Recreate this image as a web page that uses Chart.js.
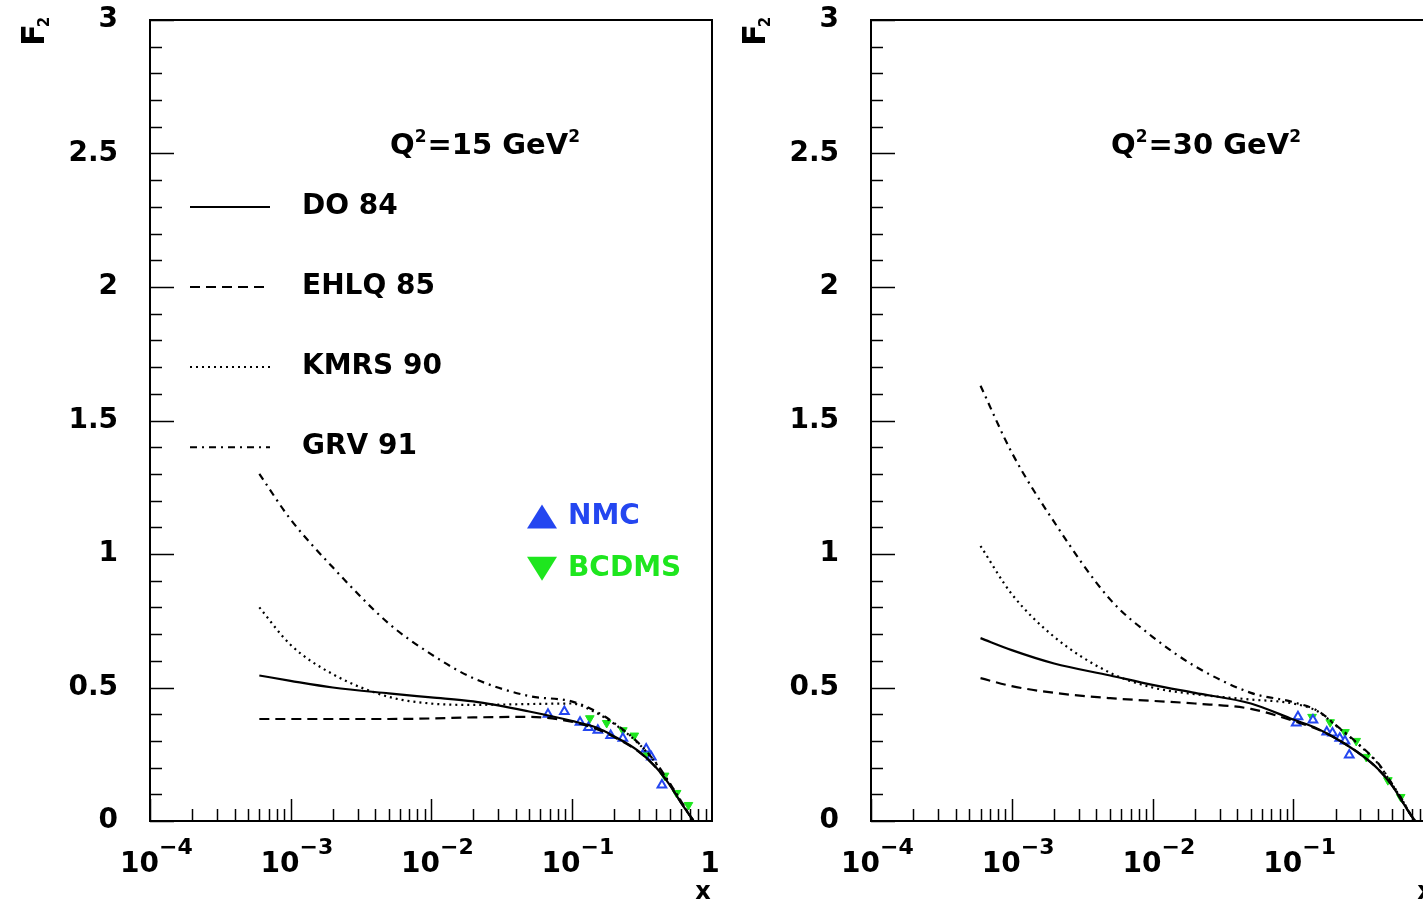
<!DOCTYPE html>
<html>
<head>
<meta charset="utf-8">
<script src="https://cdn.jsdelivr.net/npm/chart.js@4.4.1/dist/chart.umd.min.js"></script>
<style>
  html, body { margin: 0; padding: 0; background: #fff; overflow: hidden; width: 1423px; height: 904px; }
  canvas { position: absolute; top: 0; }
  #leftChart { left: 0; }
  #rightChart { left: 720px; }
</style>
</head>
<body>
<canvas id="leftChart" width="720" height="904" style="width:720px;height:904px"></canvas>
<canvas id="rightChart" width="740" height="904" style="width:740px;height:904px"></canvas>
<script>
const xGrid = [6e-4, 1e-3, 2e-3, 5e-3, 1e-2, 2e-2, 5e-2, 0.1, 0.15, 0.2, 0.3, 0.4, 0.5, 0.6, 0.7, 0.74];

// Q2 = 15 GeV2
const do84_15   = [0.545, 0.525, 0.50, 0.478, 0.463, 0.448, 0.41, 0.375, 0.35, 0.318, 0.262, 0.20, 0.135, 0.07, 0.018, 0];
const ehlq85_15 = [0.382, 0.382, 0.382, 0.382, 0.384, 0.388, 0.39, 0.372, 0.345, 0.315, 0.26, 0.20, 0.135, 0.07, 0.018, 0];
const kmrs90_15 = [0.80, 0.66, 0.55, 0.465, 0.44, 0.435, 0.438, 0.44, 0.405, 0.365, 0.29, 0.215, 0.14, 0.075, 0.018, 0];
const grv91_15  = [1.30, 1.13, 0.95, 0.74, 0.625, 0.535, 0.468, 0.448, 0.41, 0.368, 0.292, 0.217, 0.142, 0.076, 0.018, 0];

// Q2 = 30 GeV2
const do84_30   = [0.685, 0.64, 0.59, 0.545, 0.51, 0.48, 0.44, 0.38, 0.345, 0.31, 0.25, 0.195, 0.135, 0.07, 0.015, 0];
const ehlq85_30 = [0.535, 0.505, 0.48, 0.46, 0.45, 0.44, 0.42, 0.375, 0.343, 0.31, 0.25, 0.195, 0.135, 0.07, 0.015, 0];
const kmrs90_30 = [1.03, 0.85, 0.69, 0.555, 0.50, 0.475, 0.455, 0.44, 0.41, 0.358, 0.28, 0.215, 0.14, 0.075, 0.015, 0];
const grv91_30  = [1.63, 1.38, 1.12, 0.83, 0.69, 0.58, 0.48, 0.445, 0.412, 0.36, 0.282, 0.217, 0.142, 0.076, 0.015, 0];

// measurements
const nmcX_15 = [0.068, 0.089, 0.115, 0.132, 0.154, 0.19, 0.232, 0.34, 0.37, 0.44];
const nmcY_15 = [0.40, 0.41, 0.37, 0.35, 0.34, 0.32, 0.31, 0.27, 0.24, 0.135];
const bcdmsX_15 = [0.135, 0.178, 0.232, 0.28, 0.345, 0.46, 0.56, 0.68];
const bcdmsY_15 = [0.385, 0.367, 0.34, 0.32, 0.25, 0.17, 0.105, 0.06];

const nmcX_30 = [0.105, 0.108, 0.138, 0.173, 0.19, 0.214, 0.233, 0.25];
const nmcY_30 = [0.367, 0.39, 0.378, 0.333, 0.33, 0.31, 0.30, 0.247];
const bcdmsX_30 = [0.136, 0.183, 0.233, 0.28, 0.33, 0.47, 0.58];
const bcdmsY_30 = [0.39, 0.37, 0.333, 0.30, 0.24, 0.153, 0.09];

const curveNames = ["DO 84", "EHLQ 85", "KMRS 90", "GRV 91"];
const curveDashes = [[], [10, 6], [2, 4], [7, 5, 2, 5]];
const yLabelValues = [0, 0.5, 1, 1.5, 2, 2.5, 3];
const yLabels = ["0", "0.5", "1", "1.5", "2", "2.5", "3"];
const xLabelExps = [-4, -3, -2, -1];

const FONT = '"DejaVu Sans", Arial, sans-serif';
const NMC_BLUE = "#2446f0";
const BCDMS_GREEN = "#1ee61e";

function pts(xs, ys) {
    return xs.map((x, i) => ({ x: x, y: ys[i] }));
}

function supText(ctx, parts, x, y) {
    // parts: [text, isSuperscript]
    let cx = x;
    parts.forEach(([t, sup]) => {
        ctx.font = sup ? "bold 17px " + FONT : "bold 29px " + FONT;
        ctx.fillText(t, cx, sup ? y - 12 : y);
        cx += ctx.measureText(t).width + (sup ? 1 : 0);
    });
}

function drawTriangle(ctx, cx, cy, w, h, down) {
    ctx.beginPath();
    if (down) {
        ctx.moveTo(cx - w / 2, cy - h / 2);
        ctx.lineTo(cx + w / 2, cy - h / 2);
        ctx.lineTo(cx, cy + h / 2);
    } else {
        ctx.moveTo(cx - w / 2, cy + h / 2);
        ctx.lineTo(cx + w / 2, cy + h / 2);
        ctx.lineTo(cx, cy - h / 2);
    }
    ctx.closePath();
    ctx.fill();
}

function framePlugin(q2, showLegend) {
    return {
        id: "frame",
        afterDraw(chart) {
            const ctx = chart.ctx;
            const a = chart.chartArea;
            const xs = chart.scales.x, ys = chart.scales.y;
            ctx.save();
            ctx.strokeStyle = "#000";
            ctx.fillStyle = "#000";
            ctx.setLineDash([]);

            // box
            ctx.lineWidth = 2;
            ctx.strokeRect(a.left, a.top, a.right - a.left, a.bottom - a.top);

            // y ticks (inside)
            ctx.lineWidth = 1.5;
            for (let i = 0; i <= 30; i++) {
                const py = Math.round(ys.getPixelForValue(i / 10)) + 0.5;
                const len = i % 5 === 0 ? 24 : 12;
                ctx.beginPath();
                ctx.moveTo(a.left, py);
                ctx.lineTo(a.left + len, py);
                ctx.stroke();
            }
            // x ticks (inside)
            for (let e = -4; e <= -1; e++) {
                for (let m = 1; m <= 9; m++) {
                    const px = Math.round(xs.getPixelForValue(m * Math.pow(10, e))) + 0.5;
                    const len = m === 1 ? 22 : 12;
                    ctx.beginPath();
                    ctx.moveTo(px, a.bottom);
                    ctx.lineTo(px, a.bottom - len);
                    ctx.stroke();
                }
            }

            // y labels
            ctx.font = "bold 28px " + FONT;
            ctx.textAlign = "right";
            ctx.textBaseline = "middle";
            yLabelValues.forEach((v, i) => {
                ctx.fillText(yLabels[i], a.left - 32, ys.getPixelForValue(v));
            });

            // x labels
            ctx.textBaseline = "alphabetic";
            xLabelExps.forEach(e => {
                const px = xs.getPixelForValue(Math.pow(10, e));
                ctx.font = "bold 28px " + FONT;
                ctx.textAlign = "right";
                ctx.fillText("10", px + 9, a.bottom + 51);
                ctx.font = "bold 22px " + FONT;
                ctx.textAlign = "left";
                ctx.fillText("\u2212" + (-e), px + 9, a.bottom + 33);
            });
            ctx.font = "bold 28px " + FONT;
            ctx.textAlign = "center";
            ctx.fillText("1", xs.getPixelForValue(1) - 2, a.bottom + 51);
            ctx.font = "bold 24px " + FONT;
            ctx.fillText("x", a.right - 9, a.bottom + 78);

            // F2 axis title
            ctx.save();
            ctx.translate(a.left - 106, a.top + 26);
            ctx.rotate(-Math.PI / 2);
            ctx.textAlign = "left";
            ctx.font = "bold 32px " + FONT;
            ctx.fillText("F", 0, 0);
            const fw = ctx.measureText("F").width;
            ctx.font = "bold 15px " + FONT;
            ctx.fillText("2", fw - 3, 5);
            ctx.restore();

            // Q2 label
            ctx.textAlign = "left";
            supText(ctx, [["Q", false], ["2", true], ["=" + q2 + " GeV", false], ["2", true]], a.left + 240, ys.getPixelForValue(2.5));

            if (showLegend) {
                ctx.font = "bold 28px " + FONT;
                ctx.textBaseline = "middle";
                curveNames.forEach((name, i) => {
                    const py = ys.getPixelForValue(2.3 - 0.3 * i);
                    ctx.lineWidth = 2;
                    ctx.setLineDash(curveDashes[i]);
                    ctx.beginPath();
                    ctx.moveTo(a.left + 40, py);
                    ctx.lineTo(a.left + 120, py);
                    ctx.stroke();
                    ctx.setLineDash([]);
                    ctx.fillText(name, a.left + 152, py);
                });
                const nmcY = ys.getPixelForValue(1.14);
                const bcdY = ys.getPixelForValue(0.945);
                ctx.fillStyle = NMC_BLUE;
                drawTriangle(ctx, a.left + 392, nmcY, 30, 24, false);
                ctx.fillText("NMC", a.left + 418, nmcY);
                ctx.fillStyle = BCDMS_GREEN;
                drawTriangle(ctx, a.left + 392, bcdY, 30, 24, true);
                ctx.fillText("BCDMS", a.left + 418, bcdY);
            }
            ctx.restore();
        }
    };
}

function makeChart(id, curves, nmc, bcdms, q2, showLegend, pad) {
    const datasets = curves.map((ys, i) => ({
        label: curveNames[i],
        data: pts(xGrid, ys),
        borderColor: "#000",
        borderWidth: 2.2,
        borderDash: curveDashes[i],
        pointRadius: 0,
        fill: false,
        cubicInterpolationMode: "monotone"
    }));
    datasets.push({
        label: "NMC",
        data: pts(nmc[0], nmc[1]),
        showLine: false,
        pointStyle: "triangle",
        pointRadius: 5,
        borderColor: NMC_BLUE,
        backgroundColor: "#fff",
        borderWidth: 2
    });
    datasets.push({
        label: "BCDMS",
        data: pts(bcdms[0], bcdms[1]),
        showLine: false,
        pointStyle: "triangle",
        rotation: 180,
        pointRadius: 5,
        borderColor: BCDMS_GREEN,
        backgroundColor: BCDMS_GREEN,
        borderWidth: 1
    });

    return new Chart(document.getElementById(id).getContext("2d"), {
        type: "line",
        data: { datasets: datasets },
        options: {
            responsive: false,
            animation: false,
            layout: { padding: pad },
            plugins: { legend: { display: false }, tooltip: { enabled: false } },
            scales: {
                x: { type: "logarithmic", min: 1e-4, max: 1, display: false },
                y: { type: "linear", min: 0, max: 3, display: false }
            }
        },
        plugins: [framePlugin(q2, showLegend)]
    });
}

makeChart("leftChart", [do84_15, ehlq85_15, kmrs90_15, grv91_15],
    [nmcX_15, nmcY_15], [bcdmsX_15, bcdmsY_15], 15, true,
    { left: 150, right: 8, top: 20, bottom: 83 });

makeChart("rightChart", [do84_30, ehlq85_30, kmrs90_30, grv91_30],
    [nmcX_30, nmcY_30], [bcdmsX_30, bcdmsY_30], 30, false,
    { left: 151, right: 26, top: 20, bottom: 83 });
</script>
</body>
</html>
